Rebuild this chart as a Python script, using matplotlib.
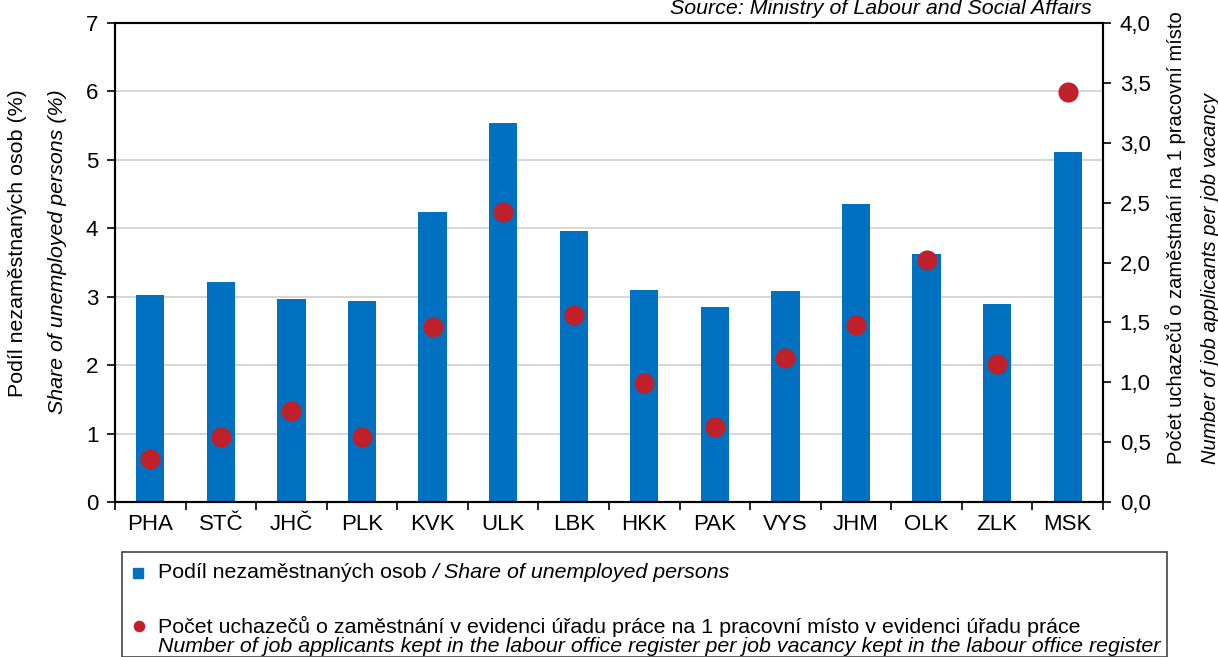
import matplotlib
matplotlib.use("Agg")
import matplotlib.pyplot as plt
from matplotlib.patches import Rectangle
import numpy as np

plt.rcParams['font.family'] = ['Liberation Sans', 'DejaVu Sans']

regions = ['PHA', 'STČ', 'JHČ', 'PLK', 'KVK', 'ULK', 'LBK', 'HKK', 'PAK', 'VYS', 'JHM', 'OLK', 'ZLK', 'MSK']
unemployed_share = [3.03, 3.22, 2.97, 2.94, 4.24, 5.54, 3.96, 3.10, 2.85, 3.08, 4.36, 3.63, 2.89, 5.12]
applicants_per_vacancy = [0.36, 0.54, 0.76, 0.54, 1.46, 2.42, 1.56, 0.99, 0.63, 1.20, 1.48, 2.02, 1.15, 3.42]

blue = '#0070C0'
red = '#C0202A'
W, H = 1218, 657
fs = 15.4
tfs = 16

fig = plt.figure(figsize=(W / 100, H / 100), dpi=100)
ax = fig.add_axes([115 / W, 1 - 502 / H, (1103 - 115) / W, (502 - 23) / H])
ax2 = ax.twinx()

x = np.arange(len(regions))
ax.bar(x, unemployed_share, width=0.4, color=blue, zorder=2)
ax2.scatter(x, applicants_per_vacancy, s=210, color=red, zorder=3, linewidths=0)

ax.set_xlim(-0.5, len(regions) - 0.5)
ax.set_ylim(0, 7)
ax.set_yticks(range(0, 8))
ax.yaxis.grid(True, color='#d0d0d0', linewidth=1.2)
ax.set_axisbelow(True)
ax.set_xticks(x)
ax.set_xticklabels(regions)
ax.tick_params(axis='x', which='major', length=0, pad=9, labelsize=tfs)
ax.set_xticks(np.arange(-0.5, len(regions)), minor=True)
ax.tick_params(axis='x', which='minor', length=6, width=1.2)
ax.tick_params(axis='y', labelsize=tfs, length=6, width=1.2, pad=6)

ax2.set_ylim(0, 4)
ax2.set_yticks(np.arange(0, 4.01, 0.5))
ax2.set_yticklabels([f'{v:.1f}'.replace('.', ',') for v in np.arange(0, 4.01, 0.5)])
ax2.tick_params(axis='y', labelsize=tfs, length=6, width=1.2, pad=6)

for a in (ax, ax2):
    for s in a.spines.values():
        s.set_linewidth(1.5)

# axis titles
fig.text(18 / W, 1 - 243 / H, 'Podíl nezaměstnaných osob (%)', rotation=90,
         ha='center', va='center', fontsize=fs)
fig.text(58 / W, 1 - 252 / H, 'Share of unemployed persons (%)', rotation=90,
         ha='center', va='center', fontsize=fs, style='italic')
fig.text(1175 / W, 1 - 464 / H, 'Počet uchazečů o zaměstnání na 1 pracovní místo', rotation=90,
         ha='center', va='bottom', fontsize=14.5)
fig.text(1210 / W, 1 - 464 / H, 'Number of job applicants per job vacancy', rotation=90,
         ha='center', va='bottom', fontsize=14.5, style='italic')

fig.text(1092 / W, 1 - 8 / H, 'Source: Ministry of Labour and Social Affairs',
         ha='right', va='center', fontsize=fs, style='italic')

# legend box
fig.patches.append(Rectangle((122 / W, 0), (1167 - 122) / W, (H - 552) / H,
                             transform=fig.transFigure, fill=False,
                             edgecolor='#444444', linewidth=1.2))
fig.patches.append(Rectangle((133 / W, 1 - 578 / H), 10 / W, 10 / H,
                             transform=fig.transFigure, color=blue))
ax_leg = fig.add_axes([0, 0, 1, 1], facecolor='none')
ax_leg.set_xlim(0, W)
ax_leg.set_ylim(H, 0)
ax_leg.axis('off')
ax_leg.scatter([139], [626], s=70, color=red, linewidths=0)

renderer = fig.canvas.get_renderer()
t1 = fig.text(158 / W, 1 - 573 / H, 'Podíl nezaměstnaných osob ', ha='left', va='center', fontsize=fs)
w1 = t1.get_window_extent(renderer).width
fig.text((158 + w1) / W, 1 - 573 / H, '/ Share of unemployed persons', ha='left', va='center',
         fontsize=fs, style='italic')
fig.text(158 / W, 1 - 626 / H,
         'Počet uchazečů o zaměstnání v evidenci úřadu práce na 1 pracovní místo v evidenci úřadu práce',
         ha='left', va='center', fontsize=fs)
fig.text(158 / W, 1 - 647 / H,
         'Number of job applicants kept in the labour office register per job vacancy kept in the labour office register',
         ha='left', va='center', fontsize=fs, style='italic')

fig.savefig('out.png', dpi=100)
